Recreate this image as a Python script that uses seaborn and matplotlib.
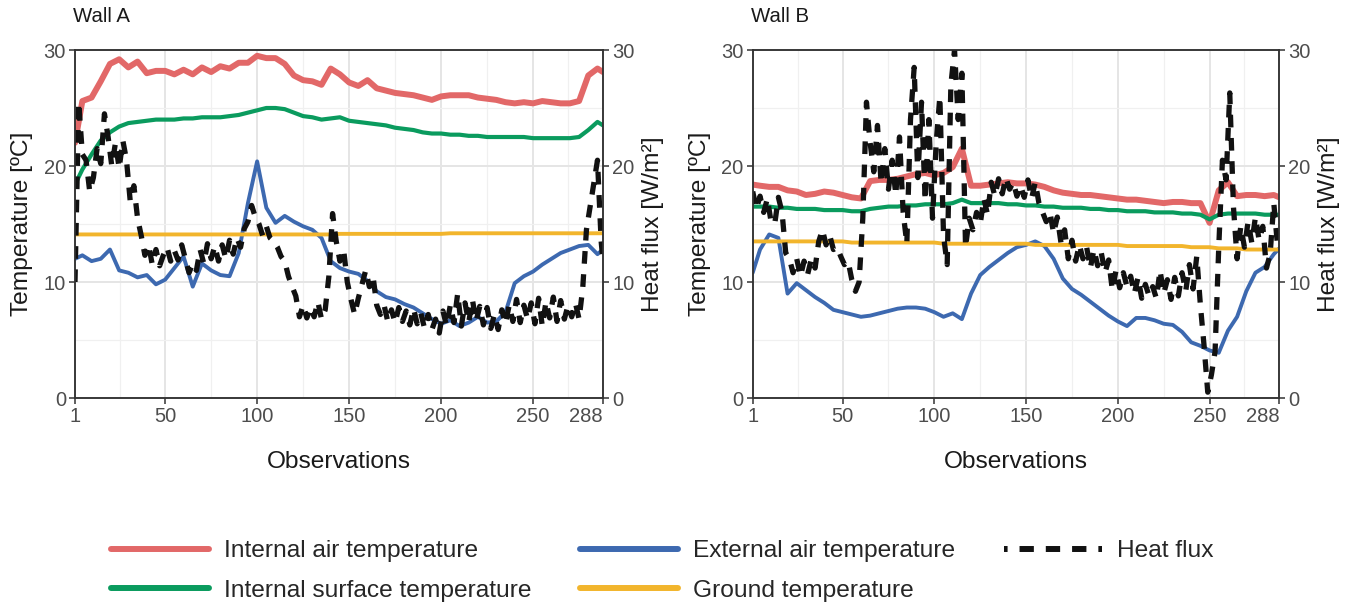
import matplotlib
matplotlib.use('Agg')
import matplotlib.pyplot as plt
from matplotlib import font_manager
from matplotlib.lines import Line2D
import pandas as pd
import seaborn as sns

# observation numbers the values were read at
obs_t = [1] + list(range(5, 286, 5)) + [288]
obs_q = list(range(1, 288, 2)) + [288]

# Wall A - temperatures (ºC) at obs_t
ia_a = [22.0, 25.6, 25.9, 27.3, 28.8, 29.2, 28.5, 29.0, 28.0, 28.2, 28.2,
        27.9, 28.3, 27.9, 28.5, 28.1, 28.6, 28.4, 28.9, 28.9, 29.5,
        29.3, 29.3, 28.8, 27.8, 27.4, 27.3, 27.0, 28.4, 27.9, 27.2,
        26.9, 27.4, 26.7, 26.5, 26.3, 26.2, 26.1, 25.9, 25.7, 26.0,
        26.1, 26.1, 26.1, 25.9, 25.8, 25.7, 25.5, 25.4, 25.5, 25.4,
        25.6, 25.5, 25.4, 25.4, 25.6, 27.8, 28.4, 28.1]
is_a = [18.4, 19.7, 21.0, 22.2, 22.9, 23.4, 23.7, 23.8, 23.9, 24.0, 24.0,
        24.0, 24.1, 24.1, 24.2, 24.2, 24.2, 24.3, 24.4, 24.6, 24.8,
        25.0, 25.0, 24.9, 24.6, 24.3, 24.2, 24.0, 24.1, 24.2, 23.9,
        23.8, 23.7, 23.6, 23.5, 23.3, 23.2, 23.1, 22.9, 22.8, 22.8,
        22.7, 22.7, 22.6, 22.6, 22.5, 22.5, 22.5, 22.5, 22.5, 22.4,
        22.4, 22.4, 22.4, 22.4, 22.5, 23.1, 23.8, 23.5]
ea_a = [12.0, 12.3, 11.8, 12.0, 12.8, 11.0, 10.8, 10.4, 10.6, 9.8, 10.2,
        11.2, 12.2, 9.6, 11.6, 11.0, 10.6, 10.5, 12.5, 16.8, 20.4,
        16.4, 15.1, 15.7, 15.2, 14.8, 14.5, 13.8, 11.8, 11.2, 10.9,
        10.7, 10.1, 9.2, 8.7, 8.5, 8.1, 7.8, 7.3, 6.8, 6.4,
        6.7, 6.2, 6.5, 7.0, 6.5, 6.6, 7.4, 9.9, 10.5, 10.9,
        11.5, 12.0, 12.5, 12.8, 13.1, 13.2, 12.4, 12.8]
gt_a = [14.1, 14.1, 14.1, 14.1, 14.1, 14.1, 14.1, 14.1, 14.1, 14.1, 14.1,
        14.1, 14.1, 14.1, 14.1, 14.1, 14.1, 14.1, 14.1, 14.1, 14.1,
        14.1, 14.1, 14.1, 14.1, 14.1, 14.1, 14.1, 14.1, 14.15, 14.15,
        14.15, 14.15, 14.15, 14.15, 14.15, 14.15, 14.15, 14.15, 14.15, 14.15,
        14.2, 14.2, 14.2, 14.2, 14.2, 14.2, 14.2, 14.2, 14.2, 14.2,
        14.2, 14.2, 14.2, 14.2, 14.2, 14.2, 14.2, 14.2]

# Wall A - heat flux (W/m²) at obs_q
hf_a = [10.0, 25.5, 21.0, 20.5, 17.8, 19.0, 21.5, 20.2, 24.5, 22.5,
        20.0, 22.0, 19.8, 22.2, 20.5, 17.0, 18.3, 15.5, 14.0, 12.3,
        13.2, 11.5, 12.8, 11.4, 12.3, 13.0, 11.8, 12.7, 11.9, 13.2,
        12.0, 10.8, 11.6, 11.0, 12.8, 11.6, 13.3, 12.0, 13.1, 11.8,
        13.2, 12.0, 13.6, 12.4, 13.8, 13.0, 14.6, 15.2, 16.6, 15.6,
        15.0, 14.0, 14.8, 13.8, 13.5, 13.0, 12.2, 11.8, 10.5, 9.6,
        8.8, 7.0, 8.0, 6.9, 7.8, 7.0, 8.3, 6.8, 7.6, 10.5,
        15.9, 13.5, 11.8, 12.8, 10.0, 8.5, 7.2, 8.6, 9.8, 11.0,
        9.6, 10.5, 8.0, 7.2, 8.0, 6.6, 7.6, 6.5, 7.8, 6.6,
        7.5, 6.3, 7.7, 6.4, 7.3, 6.0, 7.2, 5.9, 6.8, 5.6,
        7.5, 6.2, 8.0, 6.5, 9.0, 6.2, 8.2, 6.5, 8.5, 6.6,
        7.9, 6.3, 7.8, 6.0, 7.2, 5.9, 7.6, 6.4, 8.0, 6.6,
        8.5, 6.5, 8.0, 6.8, 8.2, 6.4, 8.6, 6.2, 8.3, 6.9,
        8.7, 6.6, 8.4, 6.8, 8.0, 7.0, 8.2, 6.8, 9.5, 14.5,
        16.5, 18.5, 20.5, 13.5, 11.8]

# Wall B - temperatures (ºC) at obs_t
ia_b = [18.4, 18.3, 18.2, 18.2, 17.9, 17.8, 17.5, 17.6, 17.8, 17.7, 17.5,
        17.3, 17.2, 18.7, 18.8, 18.8, 18.9, 19.1, 19.3, 19.4, 19.2,
        19.4, 19.9, 21.5, 18.3, 18.3, 18.4, 18.5, 18.6, 18.5, 18.5,
        18.4, 18.2, 17.9, 17.7, 17.6, 17.5, 17.5, 17.4, 17.3, 17.2,
        17.1, 17.1, 17.0, 16.9, 16.8, 16.9, 16.9, 16.8, 16.8, 15.1,
        17.9, 18.6, 17.4, 17.5, 17.5, 17.4, 17.5, 17.3]
is_b = [16.5, 16.5, 16.5, 16.4, 16.4, 16.3, 16.3, 16.3, 16.2, 16.2, 16.2,
        16.1, 16.1, 16.3, 16.4, 16.5, 16.5, 16.6, 16.6, 16.7, 16.7,
        16.7, 16.8, 17.1, 16.8, 16.8, 16.8, 16.8, 16.7, 16.7, 16.6,
        16.6, 16.5, 16.5, 16.4, 16.4, 16.4, 16.3, 16.3, 16.2, 16.2,
        16.1, 16.1, 16.1, 16.0, 16.0, 16.0, 15.9, 15.9, 15.8, 15.4,
        15.8, 15.9, 15.9, 15.9, 15.9, 15.8, 15.8, 15.8]
ea_b = [10.8, 12.8, 14.1, 13.8, 9.0, 9.9, 9.3, 8.7, 8.2, 7.6, 7.4,
        7.2, 7.0, 7.1, 7.3, 7.5, 7.7, 7.8, 7.8, 7.7, 7.4,
        7.0, 7.3, 6.8, 9.0, 10.6, 11.3, 11.9, 12.5, 13.0, 13.2,
        13.5, 13.1, 12.0, 10.3, 9.4, 8.9, 8.3, 7.7, 7.1, 6.6,
        6.2, 6.9, 6.9, 6.7, 6.4, 6.3, 5.7, 4.8, 4.5, 4.1,
        3.9, 5.8, 7.0, 9.2, 10.8, 11.3, 12.4, 12.9]
gt_b = [13.5, 13.5, 13.5, 13.5, 13.5, 13.5, 13.5, 13.5, 13.5, 13.5, 13.5,
        13.4, 13.4, 13.4, 13.4, 13.4, 13.4, 13.4, 13.4, 13.4, 13.4,
        13.3, 13.3, 13.3, 13.3, 13.3, 13.3, 13.3, 13.3, 13.3, 13.3,
        13.2, 13.2, 13.2, 13.2, 13.2, 13.2, 13.2, 13.2, 13.2, 13.2,
        13.1, 13.1, 13.1, 13.1, 13.1, 13.1, 13.1, 13.0, 13.0, 13.0,
        12.9, 12.9, 12.9, 12.8, 12.8, 12.8, 12.8, 12.8]

# Wall B - heat flux (W/m²) at obs_q
hf_b = [17.8, 16.3, 17.4, 16.0, 17.2, 15.2, 15.0, 17.3, 16.0, 12.5,
        12.0, 10.8, 12.0, 10.5, 11.8, 10.7, 12.0, 11.2, 13.5, 14.5,
        13.2, 14.0, 12.8, 13.0, 12.2, 11.5, 11.8, 10.2, 9.2, 10.0,
        15.5, 25.5, 22.0, 19.5, 23.5, 18.5, 21.5, 18.0, 20.5, 17.5,
        22.5, 16.0, 13.3, 24.0, 28.5, 19.0, 25.5, 17.0, 24.0, 15.5,
        22.0, 26.0, 14.0, 11.5, 27.0, 30.0, 24.0, 28.0, 13.0, 15.5,
        14.5, 16.0, 15.0, 17.2, 15.8, 18.6, 17.4, 18.9, 17.6, 19.0,
        18.0, 18.6, 17.4, 18.3, 17.3, 18.8, 17.2, 18.6, 16.8, 16.0,
        15.2, 16.0, 14.2, 15.6, 13.4, 14.5, 12.0, 13.6, 11.8, 13.2,
        12.0, 13.0, 11.2, 12.8, 11.4, 12.5, 10.8, 11.9, 9.3, 11.0,
        9.5, 10.8, 9.6, 10.5, 9.0, 10.4, 8.6, 9.8, 8.8, 9.6,
        8.6, 11.0, 9.0, 10.2, 8.5, 10.4, 8.8, 10.8, 9.2, 11.5,
        9.4, 12.2, 8.0, 4.5, 0.5, 2.0, 4.0, 13.0, 20.5, 18.8,
        26.3, 16.5, 12.0, 14.8, 13.0, 15.2, 13.4, 15.6, 13.6, 14.8,
        11.2, 12.4, 16.8, 13.2, 14.5]

labels = ['Internal air temperature', 'Internal surface temperature',
          'External air temperature', 'Ground temperature', 'Heat flux']
colors = ['#E26868', '#0A9B5E', '#3D69B0', '#F2B52C', '#111111']
widths = [4.3, 3.0, 2.8, 2.8]
dash = (0, (2.4, 2.0))

sns.set_theme(style='whitegrid')
names = {f.name for f in font_manager.fontManager.ttflist}
if 'Liberation Sans Narrow' in names:
    title_font, k = 'Liberation Sans Narrow', 1.0
else:
    title_font, k = 'Liberation Sans', 0.84
plt.rcParams['font.family'] = ['Liberation Sans', 'DejaVu Sans']

W, H = 1354, 609
fig = plt.figure(figsize=(W / 100, H / 100), dpi=100)


def px(x):
    return x / W


def py(y):
    return 1 - y / H


def draw_wall(x0, x1, temps, flux, name):
    ax = fig.add_axes([px(x0), py(398), px(x1 - x0), 348 / H])
    df = pd.DataFrame({'obs': obs_t})
    for lab, vals in zip(labels[:4], temps):
        df[lab] = vals
    for lab, c, w in zip(labels[:4], colors[:4], widths):
        sns.lineplot(data=df, x='obs', y=lab, ax=ax, color=c, lw=w,
                     legend=False, solid_joinstyle='round')
    ax.set_xlim(1, 288)
    ax.set_ylim(0, 30)
    ax.set_xticks([1, 50, 100, 150, 200, 250, 288])
    ax.set_xticks([25.5, 75, 125, 175, 225, 269], minor=True)
    ax.set_yticks([0, 10, 20, 30])
    ax.set_yticks([5, 15, 25], minor=True)
    ax.grid(which='major', color='#E5E5E5', lw=1.4)
    ax.grid(which='minor', color='#F0F0F0', lw=0.9)
    ax.set_xlabel('')
    ax.set_ylabel('')
    ax.set_facecolor('white')

    ax2 = ax.twinx()
    dq = pd.DataFrame({'obs': obs_q, 'flux': flux})
    sns.lineplot(data=dq, x='obs', y='flux', ax=ax2, color=colors[4],
                 lw=3.8, linestyle=dash, legend=False)
    ax2.set_ylim(0, 30)
    ax2.set_yticks([0, 10, 20, 30])
    ax2.grid(False)
    ax2.set_ylabel('')

    for a in (ax, ax2):
        a.tick_params(which='major', direction='out', length=4.5, width=1.1,
                      color='#333333', labelcolor='#4D4D4D', labelsize=14.5,
                      pad=2)
        a.tick_params(which='minor', length=0)
        for s in a.spines.values():
            s.set_color('#333333')
            s.set_linewidth(1.1)
    ax.tick_params(axis='x', bottom=True)
    ax.tick_params(axis='y', left=True)
    ax2.tick_params(axis='y', right=True)
    ax.get_xticklabels()[-1].set_ha('right')
    ax.get_xticklabels()[-1].set_x(288)

    fig.text(px(x0 - 2), py(16), name, fontsize=17.5 * k, family=title_font,
             color='#1A1A1A', ha='left', va='center')
    fig.text(px(x0 - 53), py(224), 'Temperature [ºC]', rotation=90,
             fontsize=21 * k, family=title_font, color='#1A1A1A',
             ha='center', va='center')
    fig.text(px(x1 + 50), py(224), 'Heat flux [W/m²]', rotation=90,
             fontsize=21 * k, family=title_font, color='#1A1A1A',
             ha='center', va='center')
    fig.text(px((x0 + x1) / 2), py(462), 'Observations', fontsize=21 * k,
             family=title_font, color='#1A1A1A', ha='center', va='center')
    return ax


draw_wall(75, 603, [ia_a, is_a, ea_a, gt_a], hf_a, 'Wall A')
draw_wall(752.7, 1279.3, [ia_b, is_b, ea_b, gt_b], hf_b, 'Wall B')

handles = [Line2D([], [], color=c, lw=4.3) for c in colors[:4]]
handles.append(Line2D([], [], color=colors[4], lw=4.3,
                      linestyle=(1.8, (2.4, 2.0))))
fig.legend(handles, labels, ncol=3, loc='center',
           bbox_to_anchor=(px(662), py(571)), frameon=False,
           prop={'family': title_font, 'size': 21 * k},
           handlelength=4.0, handletextpad=0.6, columnspacing=2.0,
           labelspacing=0.7)

fig.savefig('out.png', dpi=100, facecolor='white')
